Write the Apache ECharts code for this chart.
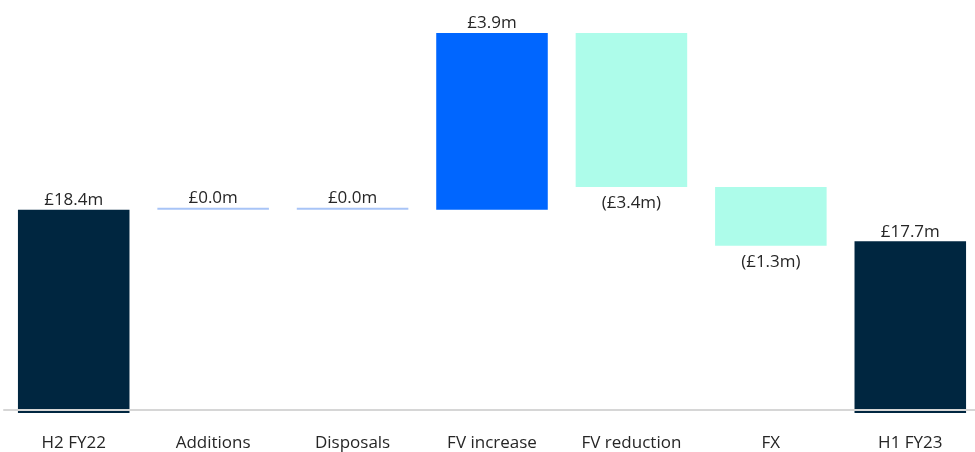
<!DOCTYPE html>
<html>
<head>
<meta charset="utf-8">
<script src="https://cdn.jsdelivr.net/npm/echarts@6/dist/echarts.min.js"></script>
<style>
  html, body { margin: 0; padding: 0; background: #ffffff; overflow: hidden; }
  #chart { width: 980px; height: 452px; }
</style>
</head>
<body>
<div id="chart"></div>
<script>
// Portfolio value bridge, £m
const categories = ['H2 FY22', 'Additions', 'Disposals', 'FV increase', 'FV reduction', 'FX', 'H1 FY23'];
const openingValue = 18.4;
const movements = [0.0, 0.0, 3.9, -3.4, -1.3];
const closingValue = 17.7;

const NAVY = '#002640';
const BLUE = '#0066ff';
const MINT = '#adfcea';
const ZERO = '#a8c4f7';

function fmt(v) {
  const s = '£' + Math.abs(v).toFixed(1) + 'm';
  return v < 0 ? '(' + s + ')' : s;
}

// Build the invisible base and the visible movement for each column
const baseData = [];
const moveData = [];
let running = openingValue;
baseData.push({ value: openingValue, itemStyle: { color: NAVY }, label: { show: true, position: 'top', formatter: fmt(openingValue) } });
moveData.push('-');
movements.forEach(function (m) {
  const lo = m >= 0 ? running : running + m;
  baseData.push({ value: lo, itemStyle: { color: 'rgba(0,0,0,0)' }, label: { show: false } });
  const color = m > 0 ? BLUE : (m < 0 ? MINT : ZERO);
  moveData.push({
    value: Math.abs(m),
    itemStyle: { color: color },
    label: m < 0
      ? { show: true, position: 'bottom', distance: 8, formatter: fmt(m) }
      : { show: true, position: 'top', distance: 1, formatter: fmt(m) }
  });
  running += m;
});
baseData.push({ value: closingValue, itemStyle: { color: NAVY }, label: { show: true, position: 'top', formatter: fmt(closingValue) } });
moveData.push('-');

const chart = echarts.init(document.getElementById('chart'), null, { renderer: 'canvas' });
const font = '"Open Sans", "Noto Sans", sans-serif';
chart.setOption({
  animation: false,
  backgroundColor: '#ffffff',
  textStyle: { fontFamily: font },
  grid: { left: 4, right: 0, top: 33, height: 380, containLabel: false },
  xAxis: {
    type: 'category',
    data: categories,
    offset: -3,
    z: 5,
    axisLine: { show: true, lineStyle: { color: '#d6d6d6', width: 2 } },
    axisTick: { show: false },
    axisLabel: { color: '#262626', fontSize: 17, fontFamily: font, margin: 25, interval: 0 }
  },
  yAxis: {
    type: 'value',
    min: 13.91,
    max: 22.3,
    show: false,
    splitLine: { show: false }
  },
  series: [
    {
      name: 'base',
      type: 'bar',
      stack: 'bridge',
      barWidth: '80%',
      data: baseData,
      label: { color: '#262626', fontSize: 17, fontFamily: font, distance: 1 }
    },
    {
      name: 'movement',
      type: 'bar',
      stack: 'bridge',
      barWidth: '80%',
      barMinHeight: 2,
      data: moveData,
      label: { color: '#262626', fontSize: 17, fontFamily: font }
    }
  ]
});
</script>
</body>
</html>
